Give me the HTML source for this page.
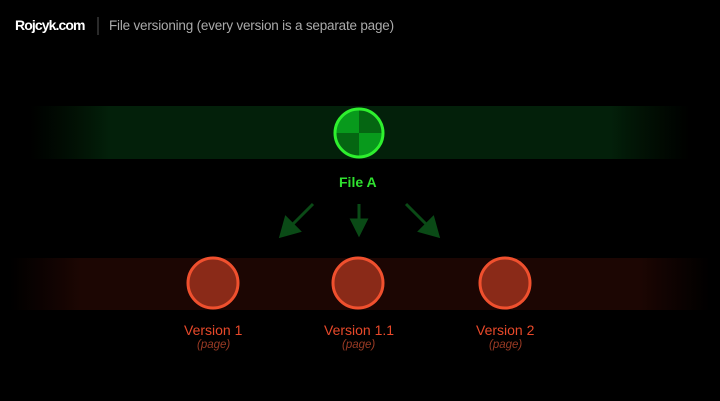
<!DOCTYPE html>
<html><head><style>
html,body{margin:0;padding:0;background:#000;}
body{width:720px;height:401px;position:relative;overflow:hidden;font-family:"Liberation Sans",sans-serif;}
.t{position:absolute;white-space:nowrap;}
</style></head><body>
<svg width="720" height="401" style="position:absolute;left:0;top:0">
<defs>
<linearGradient id="gg" x1="0" x2="1"><stop offset="0" stop-color="#021a04" stop-opacity="0"/><stop offset="0.12" stop-color="#03200a"/><stop offset="0.88" stop-color="#03200a"/><stop offset="1" stop-color="#021a04" stop-opacity="0"/></linearGradient>
<linearGradient id="rg" x1="0" x2="1"><stop offset="0" stop-color="#1a0502" stop-opacity="0"/><stop offset="0.1" stop-color="#1c0603"/><stop offset="0.9" stop-color="#1c0603"/><stop offset="1" stop-color="#1a0502" stop-opacity="0"/></linearGradient>
</defs>
<rect x="30" y="106" width="660" height="53" fill="url(#gg)"/>
<rect x="10" y="258" width="700" height="52" fill="url(#rg)"/>
<clipPath id="c"><circle cx="359" cy="133" r="24"/></clipPath>
<g clip-path="url(#c)">
<rect x="334" y="108" width="25" height="25" fill="#089a1c"/>
<rect x="359" y="108" width="25" height="25" fill="#056612"/>
<rect x="334" y="133" width="25" height="25" fill="#056612"/>
<rect x="359" y="133" width="25" height="25" fill="#089a1c"/>
</g>
<circle cx="359" cy="133" r="24" fill="none" stroke="#2ef02e" stroke-width="3"/>
<g stroke="#0a4a16" stroke-width="3" fill="#0a4a16">
<line x1="313" y1="204" x2="292" y2="225"/><polygon points="281,236 286,218 299,231"/>
<line x1="359" y1="204" x2="359" y2="222"/><polygon points="359,234 352,220 366,220"/>
<line x1="406" y1="204" x2="427" y2="225"/><polygon points="438,236 433,218 420,231"/>
</g>
<g fill="#8a2a18" stroke="#f0502e" stroke-width="3">
<circle cx="213" cy="283" r="25"/><circle cx="358" cy="283" r="25"/><circle cx="505" cy="283" r="25"/>
</g>
<line x1="98" y1="17" x2="98" y2="35" stroke="#555" stroke-width="1"/>
</svg>
<div class="t" style="left:15px;top:17px;color:#fff;font-weight:bold;font-size:14px;letter-spacing:-0.9px">Rojcyk.com</div>
<div class="t" style="left:109px;top:18px;color:#aaa;font-size:13.5px;letter-spacing:-0.2px">File versioning (every version is a separate page)</div>
<div class="t" style="left:339px;top:174px;color:#2fe02f;font-weight:bold;font-size:14px">File A</div>
<div class="t" style="left:184px;top:322px;color:#e8492a;font-size:14px">Version 1</div>
<div class="t" style="left:324px;top:322px;color:#e8492a;font-size:14px">Version 1.1</div>
<div class="t" style="left:476px;top:322px;color:#e8492a;font-size:14px">Version 2</div>
<div class="t" style="left:197px;top:339px;color:#9a3a24;font-style:italic;font-size:11.5px">(page)</div>
<div class="t" style="left:342px;top:339px;color:#9a3a24;font-style:italic;font-size:11.5px">(page)</div>
<div class="t" style="left:489px;top:339px;color:#9a3a24;font-style:italic;font-size:11.5px">(page)</div>
</body></html>
